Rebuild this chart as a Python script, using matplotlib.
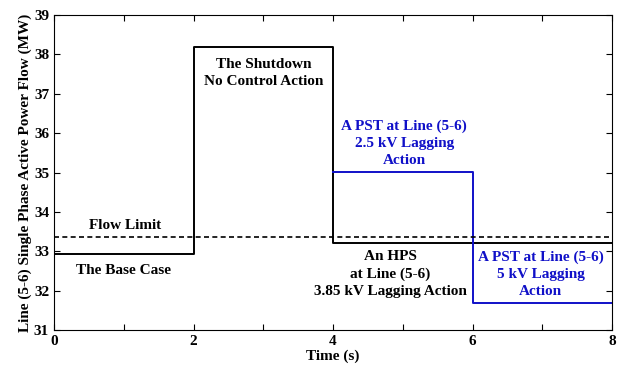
import matplotlib
matplotlib.use("Agg")
import matplotlib.pyplot as plt
from matplotlib.ticker import MultipleLocator

plt.rcParams['font.family'] = ['Liberation Serif', 'DejaVu Serif']
plt.rcParams['font.weight'] = 'bold'

# Data
black_t = [0, 2, 2, 4, 4, 8]
black_p = [32.93, 32.93, 38.18, 38.18, 33.2, 33.2]
blue_t = [4, 6, 6, 8]
blue_p = [35.02, 35.02, 31.69, 31.69]
flow_limit = 33.35

annotations = [
    ("Flow Limit", 1.02, 33.66, "black"),
    ("The Base Case", 1.0, 32.52, "black"),
    ("The Shutdown\nNo Control Action", 3.0, 37.53, "black"),
    ("A PST at Line (5-6)\n2.5 kV Lagging\nAction", 5.02, 35.75, "#1010c8"),
    ("An HPS\nat Line (5-6)\n3.85 kV Lagging Action", 4.82, 32.42, "black"),
    ("A PST at Line (5-6)\n5 kV Lagging\nAction", 6.98, 32.42, "#1010c8"),
]

fig = plt.figure(figsize=(6.18, 3.69), dpi=100)
ax = fig.add_axes([54/618, 1-330/369, (612-54)/618, (330-15)/369])

ax.plot(black_t, black_p, color='black', lw=1.4)
ax.plot(blue_t, blue_p, color='#1010c8', lw=1.4)
ax.axhline(flow_limit, color='black', lw=1.2, ls=(0, (3, 2)))

for txt, x, y, c in annotations:
    ax.text(x, y, txt, color=c, ha='center', va='center', fontsize=11,
            fontweight='bold', linespacing=1.4)

ax.set_xlim(0, 8)
ax.set_ylim(31, 39)
ax.xaxis.set_major_locator(MultipleLocator(2))
ax.xaxis.set_minor_locator(MultipleLocator(1))
ax.yaxis.set_major_locator(MultipleLocator(1))
ax.tick_params(which='both', direction='in', top=True, right=True, labelsize=11, length=4, width=0.8)
for lab in ax.get_xticklabels() + ax.get_yticklabels():
    lab.set_fontweight('bold')
ax.set_xlabel("Time (s)", fontsize=11, fontweight='bold', labelpad=1)
ax.set_ylabel("Line (5-6) Single Phase Active Power Flow (MW)", fontsize=11, fontweight='bold', labelpad=1)

fig.savefig("out.png", dpi=100)
